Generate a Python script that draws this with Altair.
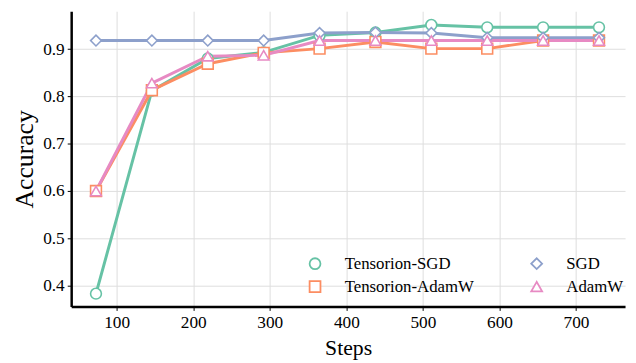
import altair as alt
import pandas as pd

steps = [73, 146, 219, 292, 365, 438, 511, 584, 657, 730]
series_names = ["Tensorion-SGD", "Tensorion-AdamW", "SGD", "AdamW"]
tensorion_sgd = [0.383, 0.812, 0.880, 0.893, 0.929, 0.935, 0.951, 0.946, 0.946, 0.946]
tensorion_adamw = [0.600, 0.813, 0.869, 0.892, 0.901, 0.915, 0.901, 0.901, 0.918, 0.918]
sgd = [0.918, 0.918, 0.918, 0.918, 0.934, 0.935, 0.934, 0.924, 0.924, 0.924]
adamw = [0.600, 0.828, 0.885, 0.887, 0.918, 0.918, 0.918, 0.918, 0.918, 0.918]
colors = ["#66c2a5", "#fc8d62", "#8da0cb", "#e78ac3"]
shapes = ["circle", "square", "diamond", "triangle-up"]

rows = []
for name, vals in zip(series_names, [tensorion_sgd, tensorion_adamw, sgd, adamw]):
    for s, v in zip(steps, vals):
        rows.append({"Steps": s, "Accuracy": v, "Method": name})
df = pd.DataFrame(rows)

FONT = "Liberation Serif"

x = alt.X("Steps:Q", scale=alt.Scale(domain=[40.6, 764], nice=False, zero=False),
          axis=alt.Axis(values=[100, 200, 300, 400, 500, 600, 700], title="Steps",
                        titleFontSize=22))
y = alt.Y("Accuracy:Q", scale=alt.Scale(domain=[0.356, 0.98], nice=False, zero=False),
          axis=alt.Axis(values=[0.4, 0.5, 0.6, 0.7, 0.8, 0.9], format=".1f", title="Accuracy",
                        titleFontSize=26))
color_scale = alt.Scale(domain=series_names, range=colors)

lines = alt.Chart(df).mark_line(strokeWidth=3).encode(
    x=x, y=y, color=alt.Color("Method:N", scale=color_scale), detail="Method:N")
points = alt.Chart(df).mark_point(filled=False, fill="white", size=120, strokeWidth=1.6, opacity=1).encode(
    x=x, y=y,
    color=alt.Color("Method:N", scale=color_scale),
    shape=alt.Shape("Method:N", scale=alt.Scale(domain=series_names, range=shapes)),
)

chart = alt.layer(lines, points).properties(
    width=561, height=299,
    padding={"left": 64, "top": 1, "right": 3, "bottom": 54},
    autosize=alt.AutoSizeParams(type="none"),
).configure(font=FONT).configure_view(stroke=None).configure_axis(
    labelColor="black", labelFontSize=17.5,
    titleFontWeight="normal", titleColor="black", gridColor="#dddddd", gridWidth=1,
    domainColor="black", domainWidth=2.5, tickColor="black", tickSize=4, tickWidth=1,
    labelPadding=3,
).configure_axisY(titlePadding=5).configure_axisX(titlePadding=7).configure_legend(
    orient="none", legendX=238.5, legendY=247, columns=2, title=None,
    labelFontSize=17, labelColor="black", symbolSize=121, symbolStrokeWidth=1.8,
    labelOffset=21.5, columnPadding=53.5, rowPadding=4.4,
)

chart.save("out.html", embed_options={"renderer": "svg", "actions": False})
